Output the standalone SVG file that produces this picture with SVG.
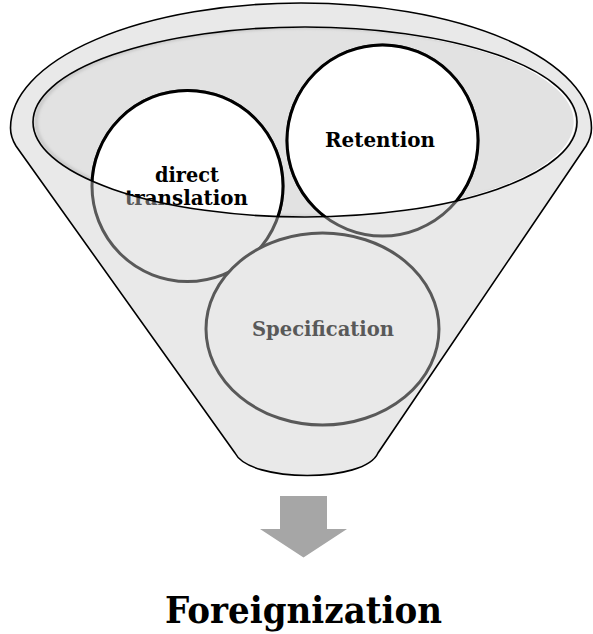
<svg xmlns="http://www.w3.org/2000/svg" width="593" height="634" viewBox="0 0 593 634">
  <style>
    .body { fill: #e9e9e9; stroke: #000; stroke-width: 1.6; }
    .mouth { fill: #e2e2e2; }
    .mouth-line { fill: none; stroke: #000; stroke-width: 1.6; }
    .ball-out { fill: #e9e9e9; stroke: #595959; stroke-width: 3; }
    .ball-in { fill: #fff; stroke: #000; stroke-width: 3; }
    .lbl { font-family: "DejaVu Serif", "Liberation Serif", serif; font-weight: bold; font-size: 20px; text-anchor: middle; }
    .lbl-out { fill: #595959; }
    .lbl-in { fill: #000; }
    .title { font-family: "DejaVu Serif", "Liberation Serif", serif; font-weight: bold; font-size: 37px; text-anchor: middle; fill: #000; }
    .arrow { fill: #a6a6a6; }
  </style>
  <defs>
    <clipPath id="mouthClip">
      <ellipse cx="305" cy="122" rx="272" ry="95"/>
    </clipPath>
    <filter id="soft" x="-5%" y="-5%" width="110%" height="110%">
      <feGaussianBlur stdDeviation="1.5"/>
    </filter>
  </defs>

  <!-- funnel body and opening -->
  <g id="funnel">
    <path class="body" d="M235,453 L16,146 Q10.5,137 10.5,128 A290.5 125 0 0 1 591.5,128 Q591.5,137 586,146 L378,453 C365,483 250,483 235,453 Z"/>
    <ellipse class="mouth" cx="305" cy="122" rx="272" ry="95"/>
    <g clip-path="url(#mouthClip)">
      <ellipse cx="308" cy="122" rx="272" ry="95" fill="none" stroke="#c4c4c4" stroke-width="3" filter="url(#soft)"/>
      <ellipse cx="302.5" cy="122" rx="272" ry="95" fill="none" stroke="#fff" stroke-width="1.5"/>
    </g>
  </g>

  <g id="node-direct-translation">
    <circle class="ball-out" cx="187.5" cy="186" r="95.5"/>
    <text class="lbl lbl-out" x="187" y="182" textLength="64" lengthAdjust="spacingAndGlyphs">direct</text>
    <text class="lbl lbl-out" x="186.5" y="205" textLength="123" lengthAdjust="spacingAndGlyphs">translation</text>
    <g clip-path="url(#mouthClip)">
      <circle class="ball-in" cx="187.5" cy="186" r="95.5"/>
      <text class="lbl lbl-in" x="187" y="182" textLength="64" lengthAdjust="spacingAndGlyphs">direct</text>
      <text class="lbl lbl-in" x="186.5" y="205" textLength="123" lengthAdjust="spacingAndGlyphs">translation</text>
    </g>
  </g>

  <g id="node-retention">
    <circle class="ball-out" cx="382.5" cy="140.5" r="95.5"/>
    <g clip-path="url(#mouthClip)">
      <circle class="ball-in" cx="382.5" cy="140.5" r="95.5"/>
    </g>
    <text class="lbl lbl-in" x="380" y="147" textLength="110" lengthAdjust="spacingAndGlyphs">Retention</text>
  </g>

  <g id="node-specification">
    <ellipse class="ball-out" cx="322.5" cy="329" rx="116.5" ry="96"/>
    <text class="lbl lbl-out" x="323" y="336" textLength="142" lengthAdjust="spacingAndGlyphs">Specification</text>
  </g>

  <!-- rim of the opening drawn over the balls -->
  <ellipse class="mouth-line" cx="305" cy="122" rx="272" ry="95"/>

  <g id="connectors">
    <polygon class="arrow" points="280,496 327,496 327,529 347,529 303.5,557.5 260,529 280,529"/>
  </g>

  <g id="result">
    <text class="title" x="303.5" y="623" textLength="277" lengthAdjust="spacingAndGlyphs">Foreignization</text>
  </g>
</svg>
